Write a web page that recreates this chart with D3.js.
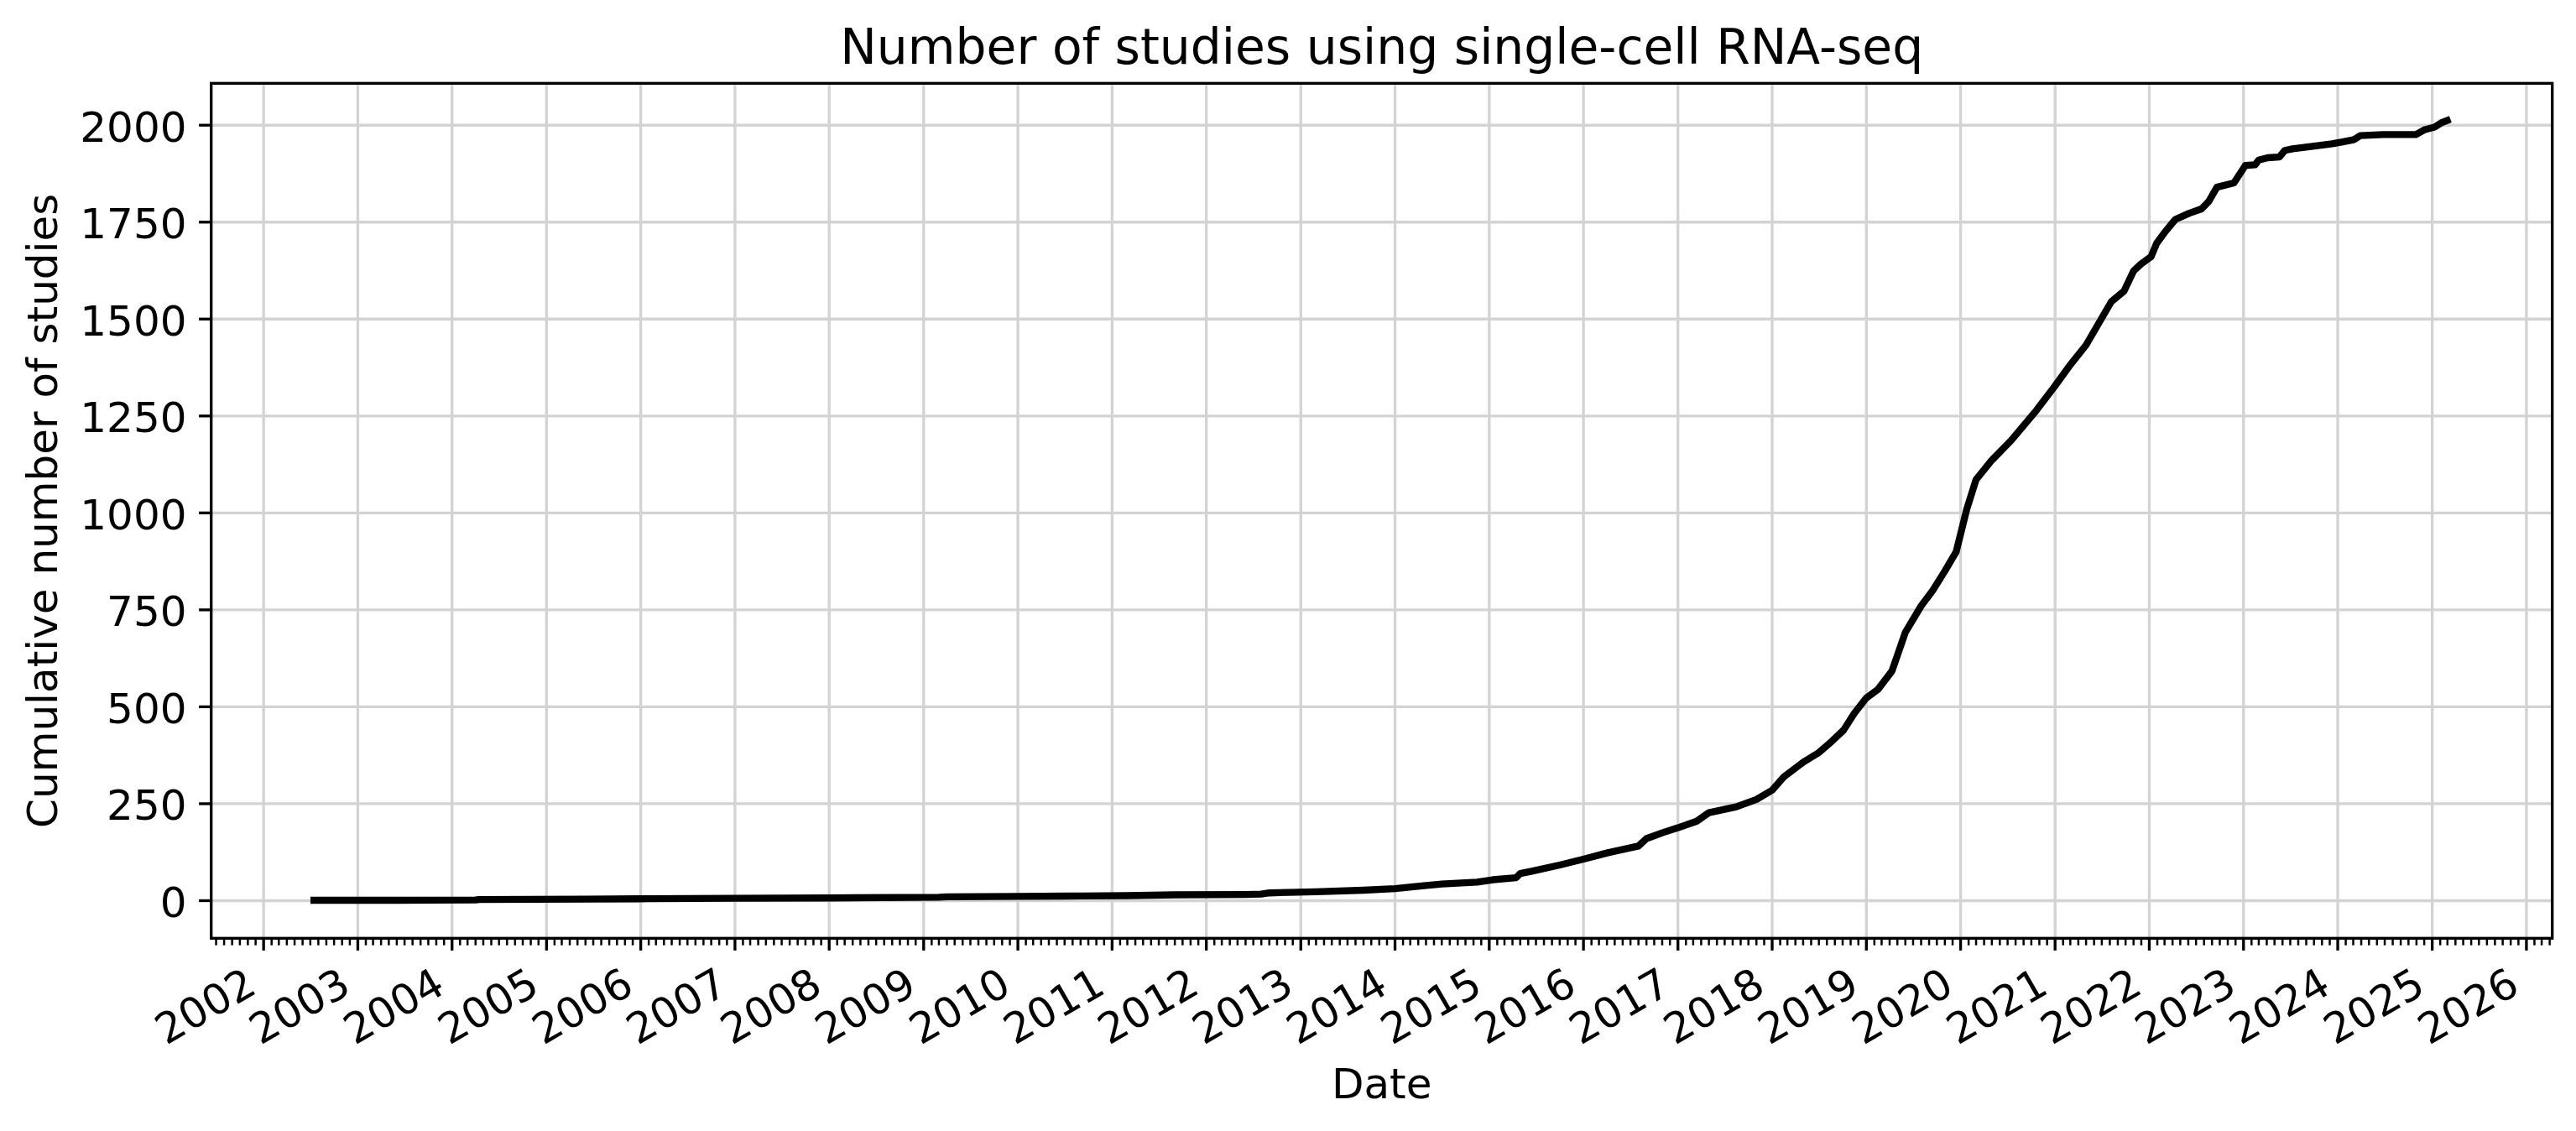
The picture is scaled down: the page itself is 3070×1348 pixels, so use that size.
<!DOCTYPE html>
<html>
<head>
<meta charset="utf-8">
<script src="https://cdn.jsdelivr.net/npm/d3@7"></script>
<style>
  html, body { margin: 0; padding: 0; background: #fff; }
  svg { display: block; }
  text { font-family: "DejaVu Sans", sans-serif; fill: #000; }
</style>
</head>
<body>
<svg id="chart" width="3070" height="1348"></svg>
<script>
// ---- Data ----
const dates = [
  "2002-07-15","2003-06-01","2004-04-01","2004-04-15","2005-06-01","2006-02-01",
  "2007-01-01","2008-01-01","2009-03-01","2009-04-01","2010-01-01","2010-09-01",
  "2011-03-01","2011-09-01","2012-06-01","2012-08-01","2012-09-01","2013-03-01",
  "2013-09-01","2014-01-01","2014-04-15","2014-07-01","2014-11-15","2015-01-15",
  "2015-04-15","2015-05-01","2015-06-15","2015-10-01","2016-01-01","2016-04-01",
  "2016-08-01","2016-09-01","2016-11-01","2017-01-01","2017-03-15","2017-05-01",
  "2017-08-15","2017-11-01","2018-01-01","2018-02-15","2018-05-01","2018-07-01",
  "2018-08-20","2018-10-05","2018-11-15","2019-01-01","2019-02-15","2019-04-10",
  "2019-06-01","2019-08-01","2019-09-15","2019-11-01","2019-12-15","2020-01-25",
  "2020-03-01","2020-05-01","2020-07-15","2020-10-20","2020-12-31","2021-03-01",
  "2021-05-01","2021-08-07","2021-09-25","2021-11-01","2021-11-30","2022-01-08",
  "2022-01-30","2022-03-01","2022-04-12","2022-06-05","2022-07-22","2022-08-20",
  "2022-09-20","2022-11-25","2023-01-08","2023-02-15","2023-03-01","2023-04-05",
  "2023-05-20","2023-06-10","2023-07-10","2023-10-15","2023-12-10","2024-01-20",
  "2024-03-05","2024-03-28","2024-06-25","2024-10-30","2024-12-01","2025-01-10",
  "2025-02-05","2025-02-28"
];
const counts = [
  1, 1, 2, 3, 4, 5,
  6, 7, 9, 10, 11, 12,
  13, 15, 16, 17, 20, 23,
  27, 31, 38, 43, 48, 54,
  59, 70, 76, 92, 107, 123,
  141, 160, 175, 188, 205, 227,
  242, 261, 285, 319, 357, 382,
  411, 440, 483, 523, 545, 592,
  692, 760, 800, 850, 900, 1010,
  1086, 1136, 1187, 1264, 1327, 1382,
  1433, 1545, 1572, 1624, 1642, 1661,
  1696, 1723, 1757, 1773, 1784, 1804,
  1840, 1851, 1896, 1898, 1910, 1916,
  1918, 1935, 1939, 1947, 1952, 1957,
  1963, 1973, 1976, 1976, 1988, 1995,
  2006, 2012
];
const yTicks = [0, 250, 500, 750, 1000, 1250, 1500, 1750, 2000];
const xTickYears = d3.range(2002, 2027);
const xDomainDates = ["2001-06-12", "2026-04-11"];
const yDomain = [-97, 2108];
const titleText = "Number of studies using single-cell RNA-seq";
const xLabelText = "Date";
const yLabelText = "Cumulative number of studies";

// ---- Layout ----
const parse = d3.utcParse("%Y-%m-%d");
const plot = { left: 251.7, right: 3041.7, top: 99.3, bottom: 1118.3 };
const pt = 300 / 72;

const x = d3.scaleUtc().domain(xDomainDates.map(parse)).range([plot.left, plot.right]);
const y = d3.scaleLinear().domain(yDomain).range([plot.bottom, plot.top]);

const svg = d3.select("#chart");
const data = dates.map((d, i) => ({ date: parse(d), value: counts[i] }));
const majorDates = xTickYears.map(yr => new Date(Date.UTC(yr, 0, 1)));

// grid
const grid = svg.append("g").attr("stroke", "#d3d3d3").attr("stroke-width", 0.8 * pt);
grid.selectAll("line.vx").data(majorDates).join("line")
  .attr("x1", d => x(d)).attr("x2", d => x(d))
  .attr("y1", plot.top).attr("y2", plot.bottom);
grid.selectAll("line.hy").data(yTicks).join("line")
  .attr("x1", plot.left).attr("x2", plot.right)
  .attr("y1", d => y(d)).attr("y2", d => y(d));

// line
const line = d3.line().x(d => x(d.date)).y(d => y(d.value));
svg.append("path").datum(data)
  .attr("d", line)
  .attr("fill", "none")
  .attr("stroke", "#000")
  .attr("stroke-width", 2 * pt)
  .attr("stroke-linejoin", "round")
  .attr("stroke-linecap", "square");

// spines
svg.append("rect")
  .attr("x", plot.left).attr("y", plot.top)
  .attr("width", plot.right - plot.left).attr("height", plot.bottom - plot.top)
  .attr("fill", "none").attr("stroke", "#000").attr("stroke-width", 0.8 * pt);

// y axis ticks
const yAxisG = svg.append("g");
yAxisG.selectAll("line").data(yTicks).join("line")
  .attr("x1", plot.left - 3.5 * pt).attr("x2", plot.left)
  .attr("y1", d => y(d)).attr("y2", d => y(d))
  .attr("stroke", "#000").attr("stroke-width", 0.8 * pt);
yAxisG.selectAll("text").data(yTicks).join("text")
  .attr("x", plot.left - 7 * pt)
  .attr("y", d => y(d) + 19.5)
  .attr("text-anchor", "end")
  .attr("font-size", 50)
  .text(d => d3.format("d")(d));

// x axis ticks
const minorDates = d3.utcMonth.range(x.domain()[0], x.domain()[1]).filter(d => d.getUTCMonth() !== 0);
const xAxisG = svg.append("g");
xAxisG.selectAll("line.minor").data(minorDates).join("line")
  .attr("class", "minor")
  .attr("x1", d => x(d)).attr("x2", d => x(d))
  .attr("y1", plot.bottom).attr("y2", plot.bottom + 2 * pt)
  .attr("stroke", "#000").attr("stroke-width", 0.6 * pt);
xAxisG.selectAll("line.major").data(majorDates).join("line")
  .attr("class", "major")
  .attr("x1", d => x(d)).attr("x2", d => x(d))
  .attr("y1", plot.bottom).attr("y2", plot.bottom + 3.5 * pt)
  .attr("stroke", "#000").attr("stroke-width", 0.8 * pt);
xAxisG.selectAll("text").data(majorDates).join("text")
  .attr("text-anchor", "end")
  .attr("font-size", 50)
  .attr("transform", d => `translate(${x(d) - 5.9},${plot.bottom + 64}) rotate(-30)`)
  .text(d => d3.utcFormat("%Y")(d));

// labels
svg.append("text")
  .attr("x", (plot.left + plot.right) / 2).attr("y", 76)
  .attr("text-anchor", "middle").attr("font-size", 58.3)
  .text(titleText);
svg.append("text")
  .attr("x", (plot.left + plot.right) / 2).attr("y", 1309)
  .attr("text-anchor", "middle").attr("font-size", 50)
  .text(xLabelText);
svg.append("text")
  .attr("transform", `translate(67.7,${(plot.top + plot.bottom) / 2}) rotate(-90)`)
  .attr("text-anchor", "middle").attr("font-size", 50)
  .text(yLabelText);
</script>
</body>
</html>
